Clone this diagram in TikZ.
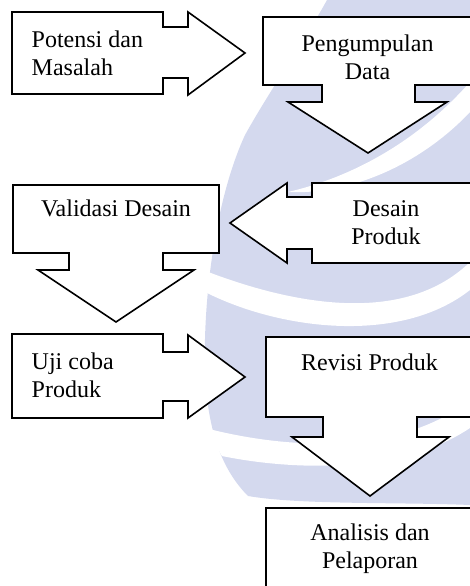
\documentclass[tikz,border=0pt]{standalone}
\usepackage{fontspec}
\setmainfont{Liberation Serif}
\definecolor{wm}{RGB}{212,217,238}
\tikzset{
  flowbox/.style={draw=black, line width=1.6pt, fill=white, line join=miter},
  lbl/.style={font=\fontsize{24}{28}\selectfont, inner sep=0pt},
}
\begin{document}
\begin{tikzpicture}[x=1pt,y=-1pt]
\useasboundingbox (0,0) rectangle (470,586);
\begin{scope}
\clip (0,0) rectangle (470,586);
% watermark
\fill[wm] (327,0) -- (470,0) -- (470,505) .. controls (400,502) and (300,505) .. (248,496)
  .. controls (222,470) and (207,430) .. (205,370)
  .. controls (203,300) and (215,200) .. (245,135)
  .. controls (270,90) and (305,40) .. (327,0) -- cycle;
\fill[white] (288,192) .. controls (340,180) and (410,150) .. (470,82)
  -- (470,112) .. controls (420,165) and (350,195) .. (288,192) -- cycle;
\fill[white] (203,270) .. controls (280,300) and (400,330) .. (470,262)
  -- (470,290) .. controls (400,345) and (280,330) .. (205,292) -- cycle;
\fill[white] (205,428) .. controls (290,450) and (400,455) .. (470,400)
  -- (470,428) .. controls (400,475) and (290,470) .. (222,456) -- cycle;
% shapes
\draw[flowbox] (12,12) -- (163,12) -- (163,27) -- (188,27) -- (188,12) -- (245,53)
  -- (188,95) -- (188,78) -- (163,78) -- (163,94) -- (12,94) -- cycle;
\draw[flowbox] (263,17) -- (480,17) -- (480,85) -- (415,85) -- (415,102) -- (447,102)
  -- (368,153) -- (288,102) -- (322,102) -- (322,85) -- (263,85) -- cycle;
\draw[flowbox] (13,185) -- (219,185) -- (219,253) -- (163,253) -- (163,270) -- (194,270)
  -- (116,322) -- (38,270) -- (69,270) -- (69,253) -- (13,253) -- cycle;
\draw[flowbox] (480,183) -- (312,183) -- (312,197) -- (287,197) -- (287,183) -- (230,223)
  -- (287,263) -- (287,249) -- (312,249) -- (312,263) -- (480,263) -- cycle;
\draw[flowbox] (12,334) -- (163,334) -- (163,352) -- (188,352) -- (188,335) -- (245,377)
  -- (188,418) -- (188,401) -- (163,401) -- (163,418) -- (12,418) -- cycle;
\draw[flowbox] (266,337) -- (480,337) -- (480,417) -- (417,417) -- (417,437) -- (449,437)
  -- (370,496) -- (292,437) -- (323,437) -- (323,417) -- (266,417) -- cycle;
\draw[flowbox] (266,508) rectangle (480,600);
\end{scope}
% labels
\node[lbl, anchor=north west, align=left] (potensi) at (31.5,30.6) {Potensi dan\\Masalah};
\node[lbl, anchor=north, align=center] (pengumpulan) at (367.5,34.3) {Pengumpulan\\Data};
\node[lbl, anchor=base] (validasi) at (116,216.5) {Validasi Desain};
\node[lbl, anchor=north, align=center] (desain) at (386,200.3) {Desain\\Produk};
\node[lbl, anchor=north west, align=left] (ujicoba) at (31.5,352.6) {Uji coba\\Produk};
\node[lbl, anchor=base] (revisi) at (369.5,370) {Revisi Produk};
\node[lbl, anchor=north, align=center] (analisis) at (370,523.6) {Analisis dan\\Pelaporan};
\end{tikzpicture}
\end{document}
